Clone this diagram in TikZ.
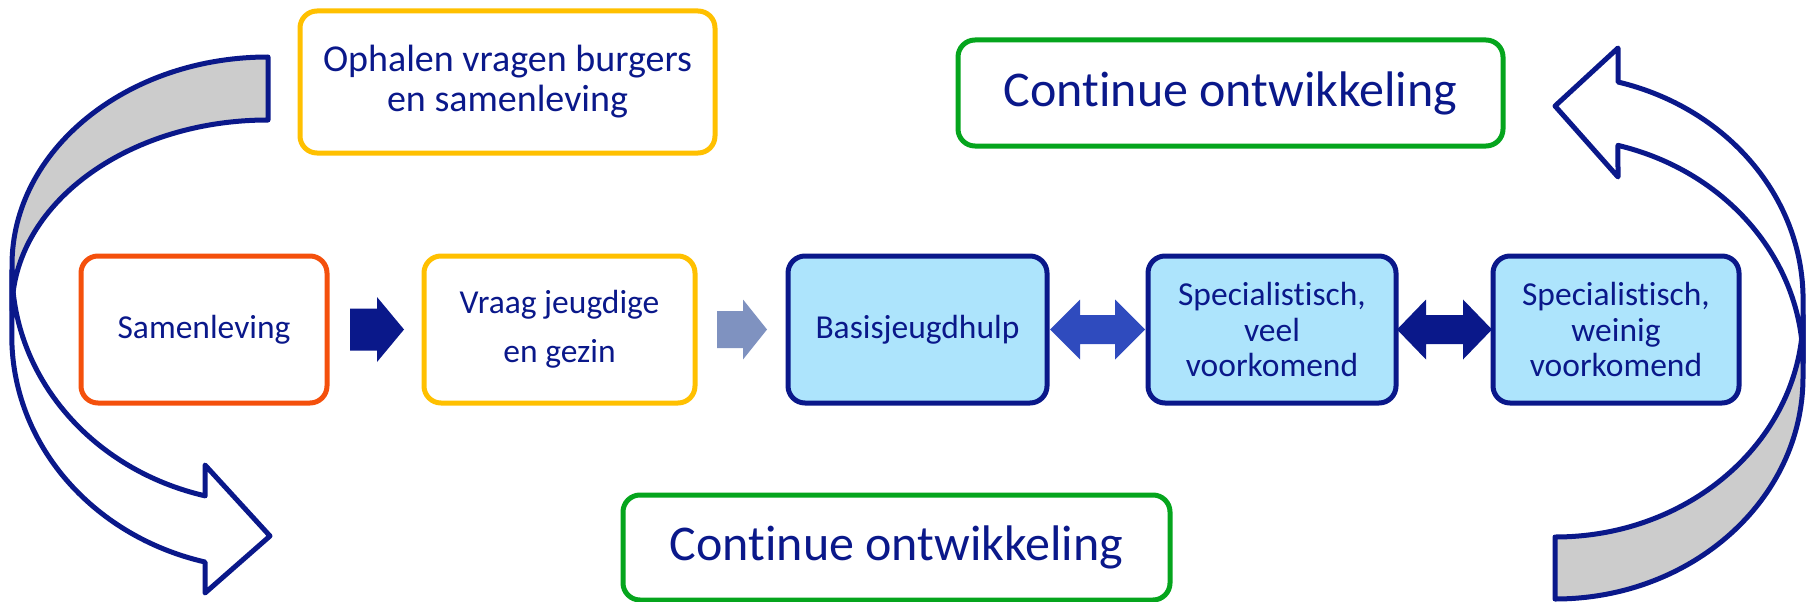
\documentclass[tikz,border=0pt]{standalone}
\usepackage{fontspec}
\setmainfont[Ligatures={NoCommon,NoRare},RawFeature={-liga;-dlig}]{Carlito}
\usetikzlibrary{calc}
\definecolor{navy}{HTML}{0A188A}
\definecolor{lightblue}{HTML}{ADE4FC}
\definecolor{grayc}{HTML}{CCCCCC}
\definecolor{yellowc}{HTML}{FFC000}
\definecolor{greenc}{HTML}{05A51D}
\definecolor{orangec}{HTML}{F4500C}
\definecolor{slatec}{HTML}{7F92C0}
\definecolor{midblue}{HTML}{2F4BBE}
\begin{document}
\begin{tikzpicture}[x=1pt,y=-1pt,
  box/.style={draw, rounded corners=17pt, line width=5pt, outer sep=0pt, inner sep=0pt, align=center, text=navy},
  bluebox/.style={box, draw=navy, fill=lightblue},
  band/.style={draw=navy, line width=5pt, line join=round},
  bigtxt/.style={font=\fontsize{50}{54}\selectfont},
  midtxt/.style={font=\fontsize{33.5}{35.5}\selectfont},
]
\useasboundingbox (0,0) rectangle (1806,602);

% curved arrows
\filldraw[band, fill=grayc] (268,57) arc[start angle=270, end angle=180, x radius=256, y radius=208]
  -- (12,310) arc[start angle=180, end angle=270, x radius=256, y radius=190] -- cycle;
\filldraw[band, fill=white] (12,270) arc[start angle=180, end angle=104.2, x radius=256, y radius=233]
  -- (205,465) -- (270,536) -- (205,593) -- (205,562)
  arc[start angle=104.2, end angle=180, x radius=256, y radius=233] -- cycle;

\filldraw[band, fill=grayc] (1803,315) arc[start angle=0, end angle=90, x radius=248, y radius=222]
  -- (1555,599) arc[start angle=90, end angle=0, x radius=248, y radius=222] -- cycle;
\filldraw[band, fill=white] (1618,82) arc[start angle=-75.3, end angle=0, x radius=248, y radius=225]
  -- (1803,363) arc[start angle=0, end angle=-75.3, x radius=248, y radius=225]
  -- (1618,177) -- (1555,106) -- (1618,48) -- cycle;

% boxes
\node[box, draw=yellowc, minimum width=415pt, minimum height=142pt, font=\fontsize{38}{40}\selectfont] (oph) at (507.5,82) {Ophalen vragen burgers\\en samenleving};
\node[box, draw=greenc, minimum width=545pt, minimum height=106pt, bigtxt] (cont1) at (1230.5,93) {Continue ontwikkeling};
\node[box, draw=greenc, minimum width=547pt, minimum height=105pt, bigtxt] (cont2) at (896.5,547.5) {Continue ontwikkeling};

\node[box, draw=orangec, minimum width=246pt, minimum height=147pt, midtxt] (sam) at (204,329.5) {Samenleving};
\node[box, draw=yellowc, minimum width=271pt, minimum height=147pt, font=\fontsize{33.5}{49}\selectfont] (vraag) at (559.5,329.5) {Vraag jeugdige\\en gezin};
\node[bluebox, minimum width=259pt, minimum height=147pt, midtxt] (basis) at (917.5,329.5) {Basisjeugdhulp};
\node[bluebox, minimum width=248pt, minimum height=147pt, midtxt] (spec1) at (1272,329.5) {Specialistisch,\\veel\\voorkomend};
\node[bluebox, minimum width=246pt, minimum height=147pt, midtxt] (spec2) at (1616,329.5) {Specialistisch,\\weinig\\voorkomend};

% block arrows between boxes
\coordinate (m1) at ($(sam.east)!0.5!(vraag.west)$);
\coordinate (m2) at ($(vraag.east)!0.5!(basis.west)$);
\coordinate (m3) at ($(basis.east)!0.5!(spec1.west)$);
\coordinate (m4) at ($(spec1.east)!0.5!(spec2.west)$);

\fill[navy] ($(m1)+(-25.5,-21)$) -- ($(m1)+(1.5,-21)$) -- ($(m1)+(1.5,-32.5)$) -- ($(m1)+(28.5,0)$)
  -- ($(m1)+(1.5,32.5)$) -- ($(m1)+(1.5,21)$) -- ($(m1)+(-25.5,21)$) -- cycle;
\fill[slatec] ($(m2)+(-24.5,-18.5)$) -- ($(m2)+(1.5,-18.5)$) -- ($(m2)+(1.5,-30)$) -- ($(m2)+(25.5,0)$)
  -- ($(m2)+(1.5,30)$) -- ($(m2)+(1.5,18.5)$) -- ($(m2)+(-24.5,18.5)$) -- cycle;
\fill[midblue] ($(m3)+(-47.5,0)$) -- ($(m3)+(-17.5,-30)$) -- ($(m3)+(-17.5,-14.5)$) -- ($(m3)+(17.5,-14.5)$)
  -- ($(m3)+(17.5,-30)$) -- ($(m3)+(47.5,0)$) -- ($(m3)+(17.5,30)$) -- ($(m3)+(17.5,14.5)$)
  -- ($(m3)+(-17.5,14.5)$) -- ($(m3)+(-17.5,30)$) -- cycle;
\fill[navy] ($(m4)+(-47.5,0)$) -- ($(m4)+(-18.5,-30)$) -- ($(m4)+(-18.5,-14.5)$) -- ($(m4)+(18.5,-14.5)$)
  -- ($(m4)+(18.5,-30)$) -- ($(m4)+(47.5,0)$) -- ($(m4)+(18.5,30)$) -- ($(m4)+(18.5,14.5)$)
  -- ($(m4)+(-18.5,14.5)$) -- ($(m4)+(-18.5,30)$) -- cycle;
\end{tikzpicture}
\end{document}
